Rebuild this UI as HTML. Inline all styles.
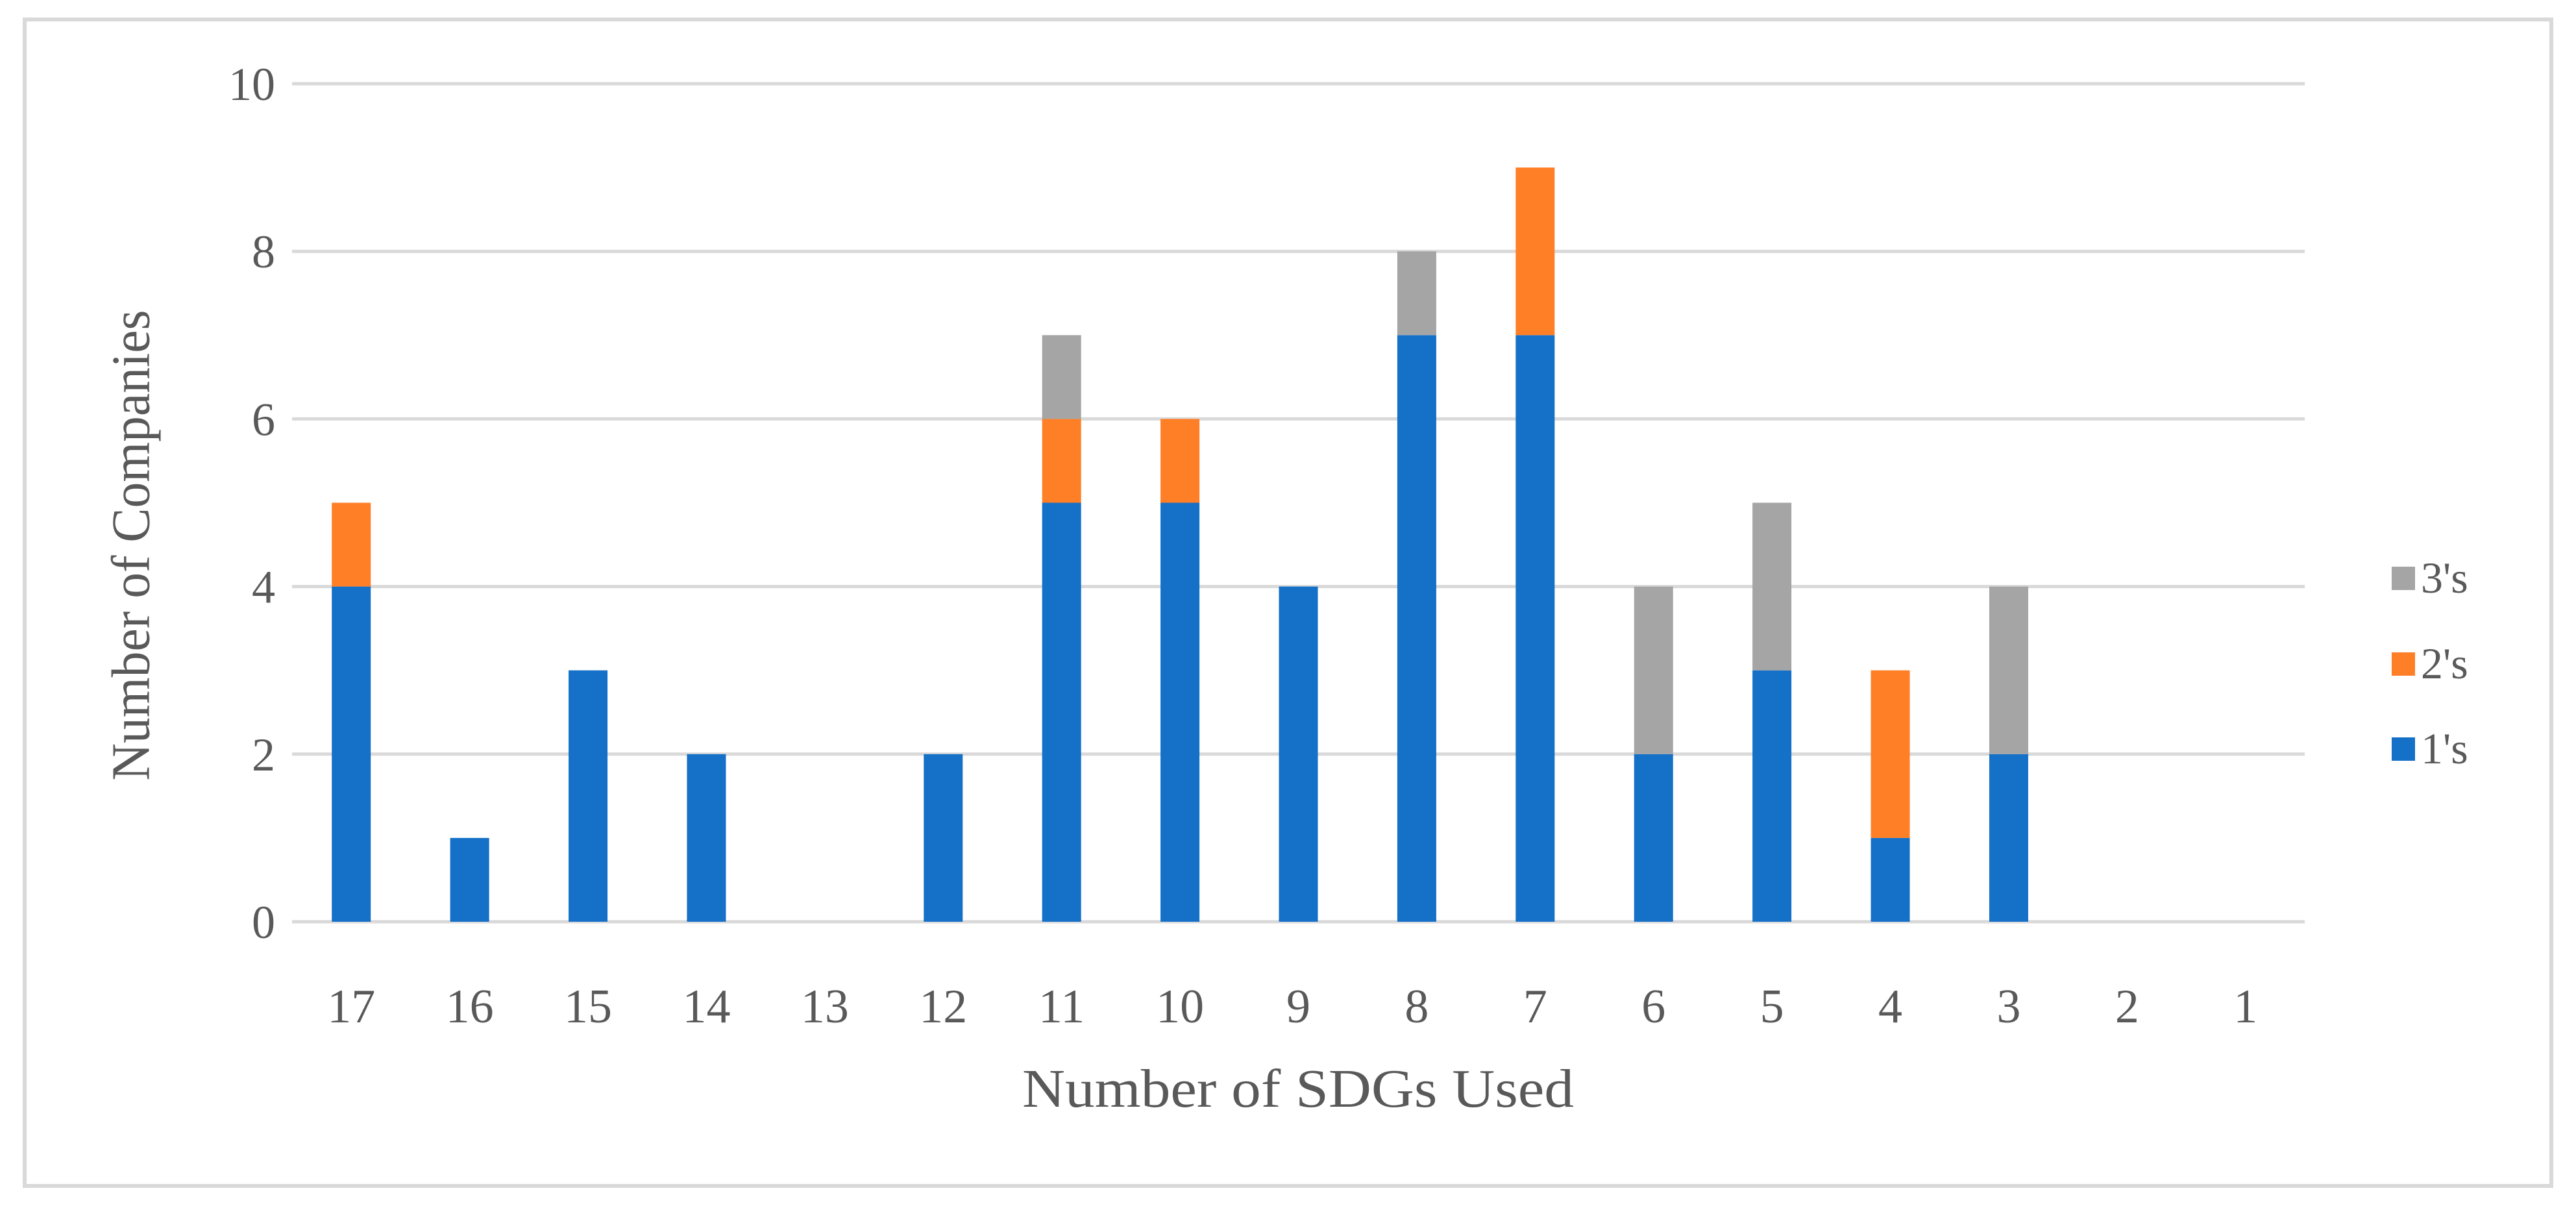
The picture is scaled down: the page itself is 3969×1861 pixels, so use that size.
<!DOCTYPE html>
<html><head><meta charset="utf-8"><style>
html,body{margin:0;padding:0;background:#fff;}
svg{display:block;}
text{font-family:"Liberation Serif",serif;fill:#595959;}
</style></head><body>
<svg id="chart" width="3969" height="1861" xmlns="http://www.w3.org/2000/svg">
<rect x="38" y="30" width="3893" height="1797" fill="#fff" stroke="#d9d9d9" stroke-width="6"/>
<g id="grid"></g><g id="bars"></g><g id="xlabels"></g><g id="ylabels"></g>
<text x="210" y="840" font-size="84" text-anchor="middle" textLength="725" lengthAdjust="spacingAndGlyphs" transform="rotate(-90 210 840)" dominant-baseline="middle">Number of Companies</text>
<text x="2000" y="1705" font-size="84" text-anchor="middle" textLength="850" lengthAdjust="spacingAndGlyphs">Number of SDGs Used</text>
<g id="legend"></g>
</svg>
<script>
const categories=["17","16","15","14","13","12","11","10","9","8","7","6","5","4","3","2","1"];
const ones=[4,1,3,2,0,2,5,5,4,7,7,2,3,1,2,0,0];
const twos=[1,0,0,0,0,0,1,1,0,0,2,0,0,2,0,0,0];
const threes=[0,0,0,0,0,0,1,0,0,1,0,2,2,0,2,0,0];
const yTicks=[0,2,4,6,8,10];
const NS="http://www.w3.org/2000/svg";
const x0=450,x1=3551,y0=1420,yTop=129,yMax=10;
const step=(x1-x0)/categories.length;
function xc(i){return x0+step*(i+0.5);}
function ys(v){return y0-(v/yMax)*(y0-yTop);}
function mk(tag,attrs,parent){const e=document.createElementNS(NS,tag);for(const k in attrs)e.setAttribute(k,attrs[k]);document.getElementById(parent).appendChild(e);return e;}
yTicks.forEach(t=>{
  const l=mk('line',{x1:x0,x2:x1,y1:ys(t),y2:ys(t),stroke:'#d9d9d9','stroke-width':5},'grid');
  
  
  const tx=mk('text',{x:424,y:ys(t)+25,'font-size':72,'text-anchor':'end'},'ylabels');
  tx.textContent=t;
  
  
});
const series=[[ones,'#1570c8','ones'],[twos,'#ff7f27','twos'],[threes,'#a5a5a5','threes']];
const bw=60;
categories.forEach((c,i)=>{
  let base=0;
  series.forEach(([arr,col,nm])=>{
    const v=arr[i];
    if(v>0){
      const r=mk('rect',{x:xc(i)-bw/2,y:ys(base+v),width:bw,height:ys(base)-ys(base+v),fill:col},'bars');
      
      
    }
    base+=v;
  });
  const t=mk('text',{x:xc(i),y:1575,'font-size':74,'text-anchor':'middle'},'xlabels');
  t.textContent=c;
  
  
});
const leg=[["3's",'#a5a5a5',891],["2's",'#ff7f27',1023],["1's",'#1570c8',1154]];
leg.forEach(([lab,col,y])=>{
  const r=mk('rect',{x:3685,y:y-18,width:36,height:36,fill:col},'legend');
  
  
  const t=mk('text',{x:3730,y:y+22,'font-size':68},'legend');
  t.textContent=lab;
  
  
});
</script>
</body></html>
